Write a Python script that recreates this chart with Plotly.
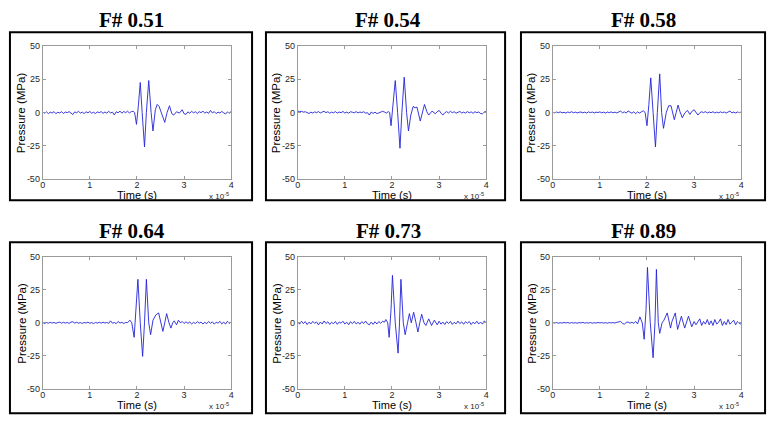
import plotly.graph_objects as go

# ---------------- data (time in units of 1e-5 s, pressure in MPa) ----------------
TITLES = ["F# 0.51", "F# 0.54", "F# 0.58", "F# 0.64", "F# 0.73", "F# 0.89"]
X_TICKS = [0, 1, 2, 3, 4]
Y_TICKS = [-50, -25, 0, 25, 50]

T_PRE = [0.00, 0.04, 0.08, 0.12, 0.16, 0.20, 0.24, 0.28, 0.32, 0.36, 0.40, 0.44,
         0.48, 0.52, 0.56, 0.60, 0.64, 0.68, 0.72, 0.76, 0.80, 0.84, 0.88, 0.92,
         0.96, 1.00, 1.04, 1.08, 1.12, 1.16, 1.20, 1.24, 1.28, 1.32, 1.36, 1.40,
         1.44, 1.48, 1.52, 1.56, 1.60, 1.64, 1.68, 1.72, 1.76, 1.80]
T_POST = [3.00, 3.04, 3.08, 3.12, 3.16, 3.20, 3.24, 3.28, 3.32, 3.36, 3.40, 3.44,
          3.48, 3.52, 3.56, 3.60, 3.64, 3.68, 3.72, 3.76, 3.80, 3.84, 3.88, 3.92,
          3.96, 4.00]

P1_pre = [0.3, -0.6, 0.4, -0.9, 0.2, -0.5, 0.6, -1.0, 0.1, -0.4, 0.5, -0.8, 0.3, -0.2, 0.6, -0.7,
          -1.6, 0.4, -0.3, 0.8, -0.5, 0.2, -0.9, 0.5, -0.3, 0.7, -0.6, 0.1, -0.8, 0.4, -0.2, 0.6,
          -0.7, 0.3, -0.5, 0.8, -0.4, 0.2, -1.9, 0.5, -0.3, 1.0, -0.6, 0.7, -0.2, 0.9]
P1_mid_t = [1.84, 1.88, 1.92, 1.95, 1.99, 2.03, 2.07, 2.11, 2.16, 2.20, 2.25, 2.30, 2.34,
            2.39, 2.43, 2.47, 2.52, 2.59, 2.64, 2.69, 2.74, 2.78, 2.84, 2.90, 2.96]
P1_mid_p = [-0.4, 0.6, 0.8, 0.0, -9.0, 5.0, 22.5, 0.0, -26.0, 0.0, 24.0, 0.0, -14.0,
            2.0, 6.0, 4.5, 0.0, -7.5, 0.0, 5.0, -1.0, -2.0, 0.5, -0.5, 2.0]
P1_post = [-1.0, -1.5, 0.4, -0.6, 0.8, -0.3, 0.5, -0.8, 0.6, -0.2, 0.9, -0.5, 0.3, -0.7,
           1.5, -0.4, 0.6, -0.9, 0.2, -0.5, 0.7, -0.3, -1.2, 0.4, -0.6, 0.8]

P2_pre = [1.0, 0.6, 0.8, 0.2, 0.5, -0.3, -0.8, 0.2, -0.5, 0.4, -0.2, 0.6, -0.4, 0.3, 0.8, -0.2,
          0.5, -0.6, 0.2, -0.3, 0.6, -0.5, 0.3, -0.2, 0.7, -0.4, 0.2, -0.6, 0.5, 0.1, -0.3, 0.6,
          -0.4, 0.3, -0.1, 0.5, -0.6, -0.2, -2.0, 0.3, -0.8, 0.2, -0.9, -0.4, 0.5, 0.8]
P2_mid_t = [1.84, 1.88, 1.92, 1.95, 1.98, 2.02, 2.07, 2.12, 2.17, 2.21, 2.26, 2.31, 2.35,
            2.40, 2.45, 2.49, 2.53, 2.60, 2.65, 2.69, 2.74, 2.78, 2.85, 2.92, 2.96]
P2_mid_p = [0.3, -0.5, 0.6, 0.0, -10.0, 5.0, 24.0, 0.0, -27.0, 0.0, 26.5, 0.0, -14.0,
            -2.0, 4.5, 3.5, 4.0, -6.5, 0.0, 6.0, 0.5, -2.0, 1.0, -1.0, 0.5]
P2_post = [1.5, -0.5, -2.0, -0.3, 0.6, -0.4, 0.8, -0.2, 0.5, -0.6, 0.3, 0.7, -0.4, 0.2,
           -0.5, 0.6, -0.3, 0.4, -0.7, 0.5, -0.2, 0.3, -0.8, -1.0, 0.4, 0.6]

P3_pre = [0.2, -0.4, 0.3, -0.2, 0.4, -0.3, 0.1, -0.5, 0.3, -0.2, 0.5, -0.3, 0.2, -0.4, 0.1, 0.3,
          -0.3, 0.2, -0.5, 0.4, -0.2, 0.3, -0.4, 0.2, -0.1, 0.4, -0.3, 0.2, -0.5, 0.3, -0.2, 0.4,
          -0.3, 0.2, -0.4, 0.3, 1.0, -0.3, 0.4, -0.5, 1.1, 0.2, -0.6, 0.5, -1.0, 0.4]
P3_mid_t = [1.84, 1.88, 1.92, 1.96, 2.00, 2.04, 2.08, 2.13, 2.18, 2.22, 2.27, 2.31, 2.35,
            2.41, 2.46, 2.51, 2.58, 2.62, 2.66, 2.70, 2.75, 2.80, 2.86, 2.91, 2.96]
P3_mid_p = [-0.5, 0.4, 1.2, 0.0, -10.0, 6.0, 26.0, 0.0, -26.0, 0.0, 29.0, 0.0, -12.0,
            0.0, 5.0, 5.0, -5.5, 0.0, 5.5, 0.5, -4.0, -0.5, 1.5, -1.5, 1.0]
P3_post = [2.0, -0.5, -2.0, -0.3, 0.5, -0.2, 0.6, -0.4, 0.3, -0.2, 0.5, -0.4, 0.2, -0.3,
           0.4, -0.2, 0.3, -0.5, 0.2, 1.0, -0.3, 0.2, -0.4, 0.3, -0.2, 0.3]

P4_pre = [0.3, -0.5, 0.2, -0.3, 0.4, -0.2, 0.3, -0.4, 0.2, 0.5, -0.3, 0.4, -0.2, 0.3, -0.5, 0.6,
          0.8, -0.2, 0.4, -0.3, 0.2, -0.5, 0.3, -0.2, 0.5, -0.4, 0.2, -0.6, 0.3, -0.2, 0.4, -0.3,
          0.5, -0.2, 0.3, -0.4, 1.5, -0.3, 0.2, -0.6, 1.0, -0.2, 0.4, -0.5, 0.3, 0.1]
P4_mid_t = [1.85, 1.89, 1.94, 1.98, 2.02, 2.07, 2.12, 2.16, 2.20, 2.25, 2.29, 2.34, 2.40,
            2.46, 2.51, 2.55, 2.59, 2.63, 2.68, 2.72, 2.76, 2.79, 2.84, 2.88, 2.92, 2.96]
P4_mid_p = [2.0, 0.0, -11.0, 10.0, 33.0, 0.0, -25.5, 0.0, 33.0, 0.0, -9.0, 2.0, 6.0,
            7.5, 0.0, -6.5, 0.0, 7.0, 0.0, -4.0, 0.0, 1.5, -1.5, 2.0, 0.0, 1.0]
P4_post = [-0.5, 0.8, -0.4, 0.6, -0.8, 0.3, -0.5, 0.9, -0.3, 0.6, -0.9, 0.4, -0.6, 1.0,
           -0.4, 0.7, -1.0, 0.5, -0.3, 1.1, -0.8, 0.6, -1.0, 1.2, -0.5, 0.8]

P5_pre = [0.8, -1.0, 1.2, -0.6, 0.9, -1.3, 0.5, -0.8, 1.1, -0.4, 0.7, -1.5, 0.6, -0.9, 1.4, -0.5,
          0.8, -1.2, 0.4, -0.7, 1.0, -1.1, 0.6, -0.3, 1.2, -0.9, 0.5, -1.4, 0.8, -0.6, 1.1, -0.8,
          0.4, -1.0, 0.9, -0.5, 1.3, -0.7, -1.5, 0.6, -1.2, 0.8, -0.9, 1.0, -0.4, 1.2]
P5_mid_t = [1.84, 1.87, 1.91, 1.94, 1.98, 2.01, 2.07, 2.13, 2.16, 2.19, 2.24, 2.28, 2.33,
            2.37, 2.41, 2.46, 2.51, 2.55, 2.59, 2.63, 2.68, 2.72, 2.78, 2.84, 2.90, 2.96]
P5_mid_p = [0.5, 2.5, 0.0, -11.0, 10.0, 36.0, 0.0, -23.0, 0.0, 33.0, 0.0, -9.0, 0.0,
            7.0, 0.0, 8.0, 0.0, -7.0, 0.0, 6.5, 0.0, -2.0, 3.0, -2.0, 2.0, -1.5]
P5_post = [1.2, -1.0, 0.6, -1.3, 0.9, -0.5, 1.1, -1.2, 0.4, -0.8, 1.3, -0.6, 0.7, -1.1,
           0.9, -0.4, 1.0, -1.3, 0.5, -0.7, 1.2, -0.9, 0.6, -1.0, 1.5, -0.3]

P6_pre = [0.3, -0.2, 0.2, -0.3, 0.1, -0.2, 0.3, -0.1, 0.2, -0.3, 0.2, -0.2, 0.1, -0.3, 0.2, -0.1,
          0.3, -0.2, 0.1, -0.2, 0.2, -0.3, 0.1, -0.2, 0.3, -0.1, 0.2, -0.2, 0.1, -0.3, 0.2, -0.1,
          0.2, -0.2, 0.4, 0.5, 1.0, -0.4, -1.0, 0.3, 0.6, -0.3, 0.4, -0.4, 1.0, -0.8]
P6_mid_t = [1.85, 1.90, 1.94, 1.98, 2.01, 2.07, 2.13, 2.17, 2.20, 2.24, 2.27, 2.32, 2.36,
            2.43, 2.50, 2.53, 2.60, 2.65, 2.73, 2.80, 2.88, 2.95]
P6_mid_p = [4.5, 0.0, -12.5, 10.0, 42.0, 0.0, -26.5, 0.0, 40.5, 0.0, -8.0, 0.0, 2.0,
            7.5, -4.0, 1.0, 7.5, -5.0, 5.0, -4.0, 5.0, -3.0]
P6_post = [1.0, -1.5, 0.5, 3.0, -2.0, 1.0, -1.0, 2.5, -1.5, 1.5, -2.0, 2.5, -1.0, 0.5,
           3.0, -2.0, 1.0, -1.5, 2.5, -1.0, 0.5, 2.0, -1.5, 1.0, -0.5, -1.0]

PANELS = [
    (P1_pre, P1_mid_t, P1_mid_p, P1_post),
    (P2_pre, P2_mid_t, P2_mid_p, P2_post),
    (P3_pre, P3_mid_t, P3_mid_p, P3_post),
    (P4_pre, P4_mid_t, P4_mid_p, P4_post),
    (P5_pre, P5_mid_t, P5_mid_p, P5_post),
    (P6_pre, P6_mid_t, P6_mid_p, P6_post),
]

# ---------------- layout geometry (pixels) ----------------
W, H = 776, 424
# (axis left, axis right, box left, box right, title centre x)
COLS = [(40, 230, 7, 251, 130), (297, 487, 265, 506, 388), (554, 744, 522, 768, 645)]
# (axis top, axis bottom, box top, box bottom, title centre y)
ROWS = [(42, 178, 28, 200, 15.5), (258, 393, 243, 418, 231)]

LINE_COL = "#2323d8"
AX_COL = "#9a9a9a"
TXT_COL = "#262626"
SANS = "Liberation Sans, Arial, sans-serif"
SERIF = "Liberation Serif, Times New Roman, serif"

fig = go.Figure()
layout = dict(width=W, height=H, margin=dict(l=0, r=0, t=0, b=0),
              paper_bgcolor="white", plot_bgcolor="white", showlegend=False)
annotations = []
shapes = []

for i, (pre, mt, mp, post) in enumerate(PANELS):
    assert len(pre) == len(T_PRE) and len(mt) == len(mp) and len(post) == len(T_POST)
    r, c = divmod(i, 3)
    axl, axr, bxl, bxr, tcx = COLS[c]
    axt, axb, bxt, bxb, tcy = ROWS[r]
    k = i + 1
    xs = "" if k == 1 else str(k)
    t = T_PRE + mt + T_POST
    p = pre + mp + post
    fig.add_trace(go.Scatter(x=t, y=p, mode="lines", xaxis="x" + xs, yaxis="y" + xs,
                             line=dict(color=LINE_COL, width=0.9), hoverinfo="skip"))
    common = dict(showgrid=False, zeroline=False, showline=True, linecolor=AX_COL,
                  linewidth=1, mirror="ticks", ticks="inside", ticklen=3,
                  tickcolor=AX_COL, tickwidth=1,
                  tickfont=dict(family=SANS, size=9, color=TXT_COL), fixedrange=True)
    layout["xaxis" + xs] = dict(domain=[axl / W, axr / W], anchor="y" + xs,
                                range=[0, 4], tickvals=X_TICKS, ticklabelstandoff=-3,
                                ticktext=[str(v) for v in X_TICKS], **common)
    layout["yaxis" + xs] = dict(domain=[1 - axb / H, 1 - axt / H], anchor="x" + xs,
                                range=[-50, 50], tickvals=Y_TICKS,
                                ticktext=[str(v) for v in Y_TICKS], **common)
    # outer frame
    shapes.append(dict(type="rect", xref="paper", yref="paper",
                       x0=bxl / W, x1=bxr / W, y0=1 - bxb / H, y1=1 - bxt / H,
                       line=dict(color="black", width=2), fillcolor="rgba(0,0,0,0)"))
    # title
    annotations.append(dict(text="<b>" + TITLES[i] + "</b>", xref="paper", yref="paper",
                            x=tcx / W, y=1 - tcy / H, xanchor="center", yanchor="middle",
                            showarrow=False, font=dict(family=SERIF, size=21, color="black")))
    # y label
    annotations.append(dict(text="Pressure (MPa)", xref="paper", yref="paper",
                            x=(axl - 21) / W, y=1 - (axt + axb) / 2 / H, textangle=-90,
                            xanchor="center", yanchor="middle", showarrow=False,
                            font=dict(family=SANS, size=11.5, color="black")))
    # x label
    annotations.append(dict(text="Time (s)", xref="paper", yref="paper",
                            x=(axl + axr) / 2 / W, y=1 - (axb + 17) / H,
                            xanchor="center", yanchor="middle", showarrow=False,
                            font=dict(family=SANS, size=11, color="black")))
    # exponent
    annotations.append(dict(text="x 10<sup>-5</sup>", xref="paper", yref="paper",
                            x=axr / W, y=1 - (axb + 17.5) / H,
                            xanchor="right", yanchor="middle", showarrow=False,
                            font=dict(family=SANS, size=8, color=TXT_COL)))

layout["annotations"] = annotations
layout["shapes"] = shapes
fig.update_layout(**layout)
fig.write_html("out.html", config={"displayModeBar": False},
               post_script="document.body.style.margin='0px';document.body.style.padding='0px';")
